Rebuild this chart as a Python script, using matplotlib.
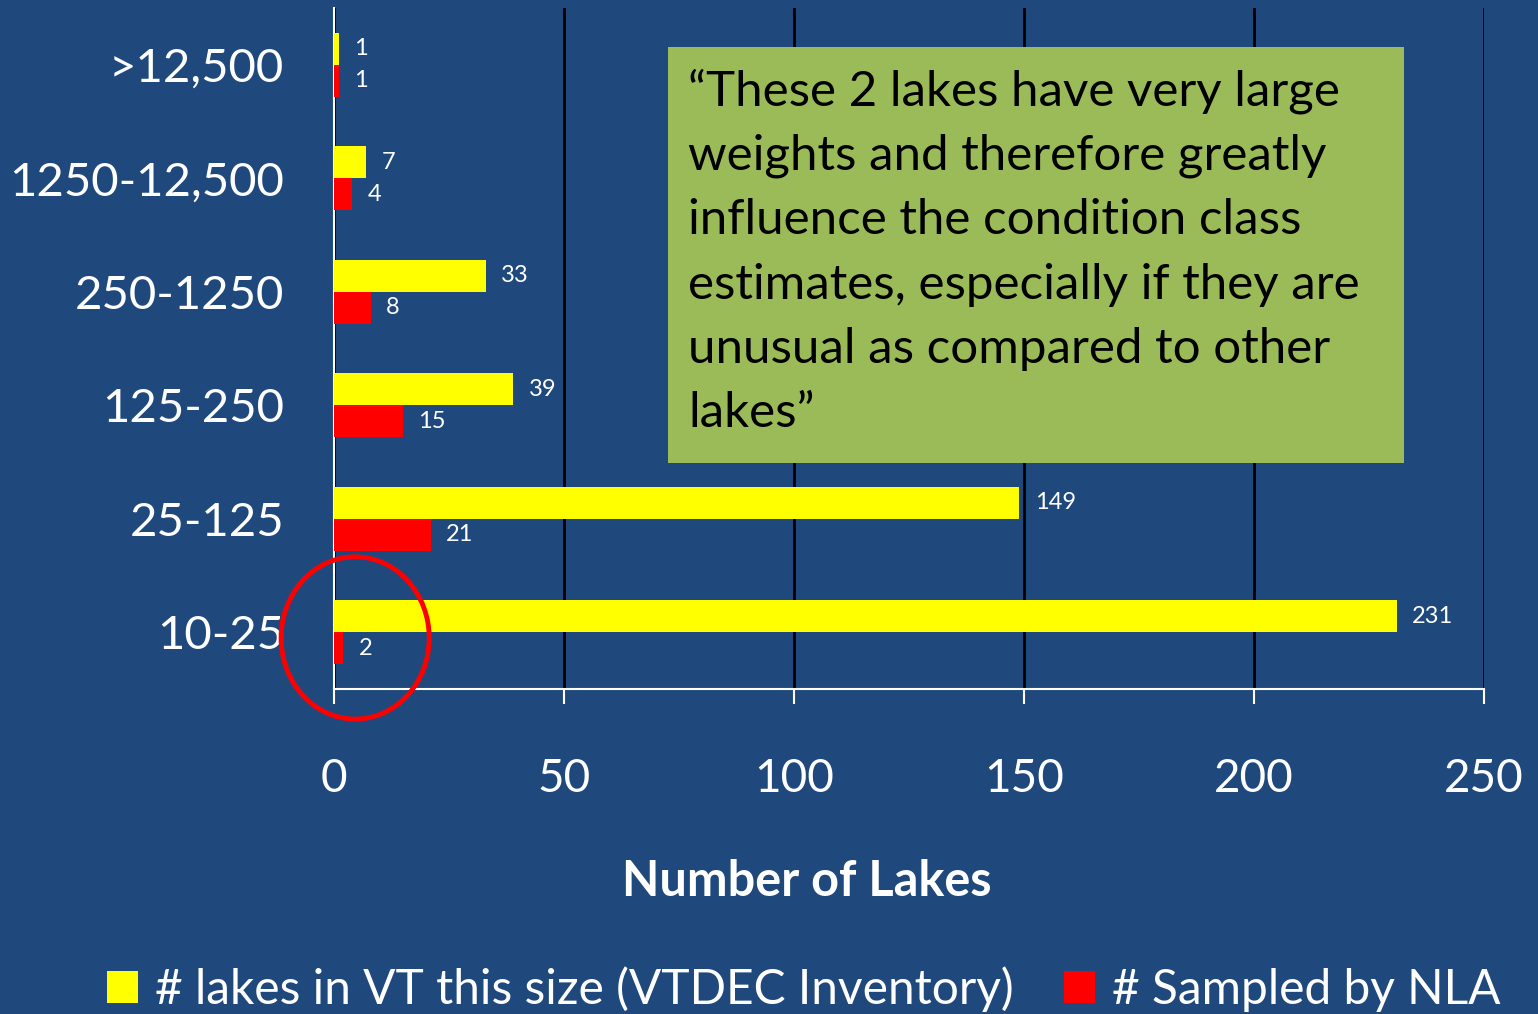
import matplotlib.pyplot as plt
from matplotlib.patches import Ellipse

# lake size classes (hectares), bottom to top
size_classes = ['10-25', '25-125', '125-250', '250-1250', '1250-12,500', '>12,500']
vt_inventory = [231, 149, 39, 33, 7, 1]
nla_sampled = [2, 21, 15, 8, 4, 1]
x_ticks = [0, 50, 100, 150, 200, 250]

legend_labels = ['# lakes in VT this size (VTDEC Inventory)', '# Sampled by NLA']
note = ("\u201cThese 2 lakes have very large\n"
        "weights and therefore greatly\n"
        "influence the condition class\n"
        "estimates, especially if they are\n"
        "unusual as compared to other\n"
        "lakes\u201d")

bg = '#1F497D'
plt.rcParams['font.family'] = ['Lato', 'DejaVu Sans']

fig = plt.figure(figsize=(15.38, 10.14), dpi=100, facecolor=bg)
ax = fig.add_axes([334 / 1538, 1 - 689 / 1014, (1484 - 334) / 1538, (689 - 8) / 1014])
ax.set_facecolor(bg)

pos = list(range(len(size_classes)))
h = 0.28
b1 = ax.barh([p + h / 2 for p in pos], vt_inventory, height=h, color='#FFFF00', zorder=3)
b2 = ax.barh([p - h / 2 for p in pos], nla_sampled, height=h, color='#FF0000', zorder=3)

for bars, vals in ((b1, vt_inventory), (b2, nla_sampled)):
    for bar, v in zip(bars, vals):
        ax.annotate(str(v), (bar.get_width(), bar.get_y() + bar.get_height() / 2),
                    xytext=(11, 0), textcoords='offset points', va='center', ha='left',
                    color='white', fontsize=17)

ax.set_xlim(0, 250)
ax.set_ylim(-0.5, len(size_classes) - 0.5)
ax.set_xticks(x_ticks)
ax.set_yticks(pos)
ax.set_yticklabels(size_classes)
ax.xaxis.grid(True, color='black', linewidth=2, zorder=0)
ax.set_axisbelow(True)

for s in ('top', 'right'):
    ax.spines[s].set_visible(False)
for s in ('left', 'bottom'):
    ax.spines[s].set_color('white')
    ax.spines[s].set_linewidth(1.5)

ax.tick_params(axis='x', colors='white', labelsize=33, length=11, width=1.5, pad=39)
ax.tick_params(axis='y', colors='white', labelsize=34, length=0, pad=36)

fig.text(807 / 1538, 1 - 882 / 1014, 'Number of Lakes', ha='center', va='center',
         color='white', fontsize=35, fontweight='bold')

# red circle around the 10-25 class
circle = Ellipse((4.6, -0.05), 32.2, 1.43, fill=False, edgecolor='#FF0000', linewidth=3.5,
                 clip_on=False, zorder=5)
ax.add_patch(circle)

# green call-out box
fig.patches.append(plt.Rectangle((668 / 1538, 1 - 463 / 1014), (1404 - 668) / 1538,
                                 (463 - 47) / 1014, transform=fig.transFigure,
                                 facecolor='#9BBB59', edgecolor='none', zorder=6))
fig.text(688 / 1538, 1 - 68 / 1014, note, ha='left', va='top', color='black',
         fontsize=35.5, linespacing=1.56, zorder=7)

leg = fig.legend([b1, b2], legend_labels, loc='center left',
                 bbox_to_anchor=(64 / 1538, 1 - 989 / 1014), ncol=2, frameon=False,
                 fontsize=34.5, handlelength=0.65, handleheight=0.65, handletextpad=0.35,
                 columnspacing=1.05, labelcolor='white')

fig.savefig('out.png', dpi=100, facecolor=bg)
